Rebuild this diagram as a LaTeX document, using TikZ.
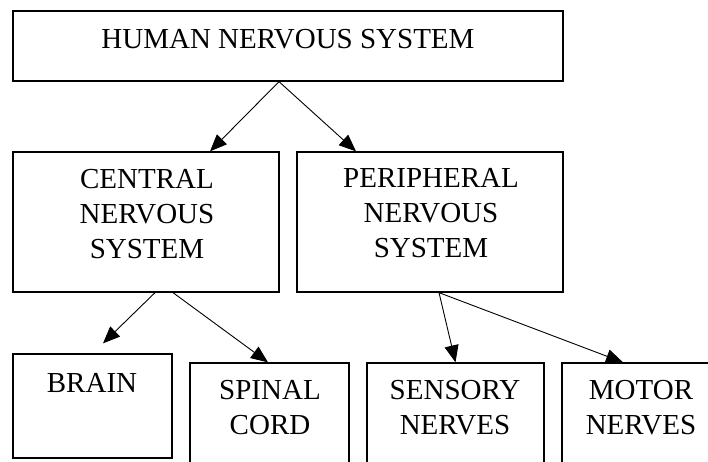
\documentclass[tikz,border=0pt]{standalone}
\usepackage{fontspec}
\setmainfont{Liberation Serif}
\usetikzlibrary{arrows.meta}
\begin{document}
\begin{tikzpicture}[x=1pt,y=-1pt,
  box/.style={draw=black,line width=1.3pt,rectangle,inner sep=0pt,fill=none},
  lbl/.style={anchor=north,align=center,inner sep=0pt,font=\fontsize{29}{35}\selectfont},
  arr/.style={draw=black,line width=0.9pt,-{Triangle[length=17pt,width=14pt]}}]
\useasboundingbox (0,0) rectangle (708,462);
\fill[white] (0,0) rectangle (708,462);
% boxes
\node[box,minimum width=550pt,minimum height=70pt] (top) at (288,46) {};
\node[box,minimum width=266pt,minimum height=140pt] (cns) at (146,222) {};
\node[box,minimum width=266pt,minimum height=140pt] (pns) at (430,222) {};
\node[box,minimum width=159pt,minimum height=104pt] (brain) at (92.5,406) {};
\node[box,minimum width=159pt,minimum height=112pt] (spinal) at (269.5,419) {};
\node[box,minimum width=177pt,minimum height=112pt] (sensory) at (455.5,419) {};
\node[box,minimum width=158pt,minimum height=112pt] (motor) at (641,419) {};
% labels
\node[lbl] (ttop) at (288,29) {HUMAN NERVOUS SYSTEM};
\node[lbl] (tcns) at (147,169) {CENTRAL\\NERVOUS\\SYSTEM};
\node[lbl] (tpns) at (431,168) {PERIPHERAL\\NERVOUS\\SYSTEM};
\node[lbl] (tbrain) at (92,373) {BRAIN};
\node[lbl] (tspinal) at (270,380) {SPINAL\\CORD};
\node[lbl] (tsensory) at (455,380) {SENSORY\\NERVES};
\node[lbl] (tmotor) at (641,380) {MOTOR\\NERVES};
% connectors
\draw[arr] ([xshift=-9pt]top.south) -- ([xshift=64pt]cns.north);
\draw[arr] ([xshift=-9pt]top.south) -- ([xshift=-74pt]pns.north);
\draw[arr] ([xshift=9pt]cns.south) -- ([xshift=10.5pt,yshift=10pt]brain.north);
\draw[arr] ([xshift=27pt]cns.south) -- ([xshift=-1.5pt]spinal.north);
\draw[arr] ([xshift=9pt]pns.south) -- (sensory.north);
\draw[arr] ([xshift=9pt]pns.south) -- ([xshift=-18pt]motor.north);
\end{tikzpicture}
\end{document}
